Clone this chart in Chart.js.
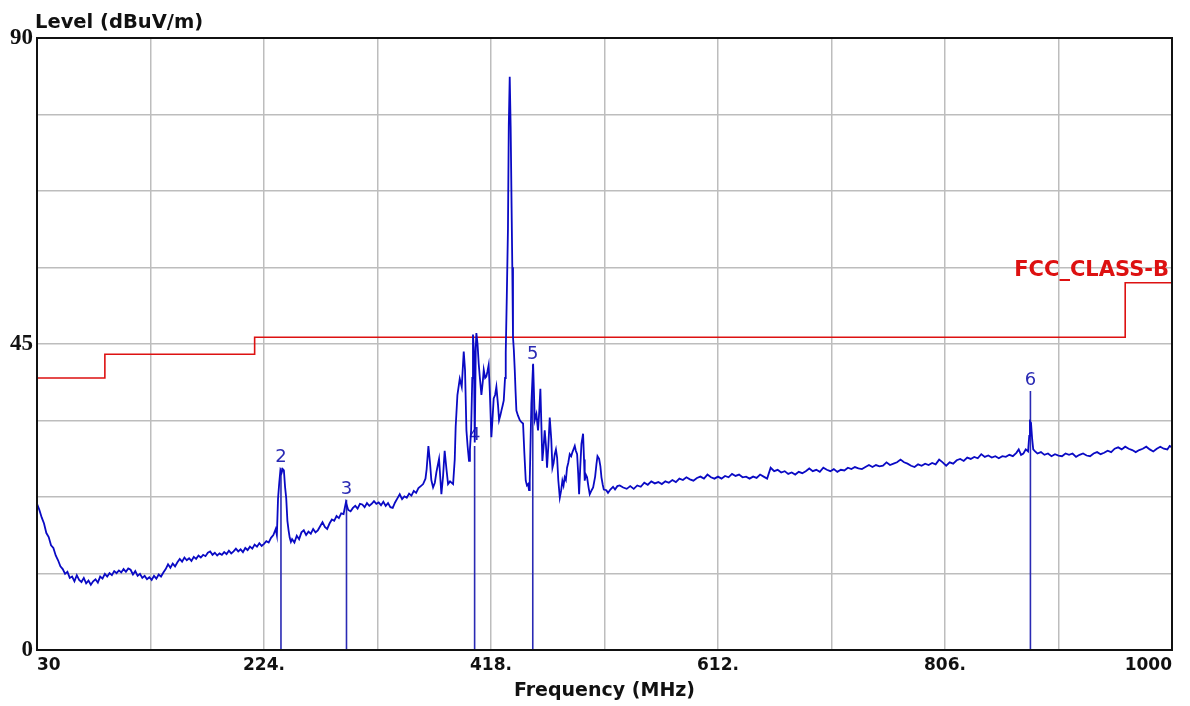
<!DOCTYPE html>
<html>
<head>
<meta charset="utf-8">
<title>Level (dBuV/m)</title>
<script src="https://cdn.jsdelivr.net/npm/chart.js@4/dist/chart.umd.min.js"></script>
<style>
  html, body { margin: 0; padding: 0; background: #fff; }
  canvas { display: block; }
</style>
</head>
<body>
<canvas id="grafico" width="1190" height="706"></canvas>
<script>
// Varredura medida (MHz / dBuV/m)
const freqMHz = [
  30, 32, 34, 36, 38, 40, 42, 44, 46, 48,
  50, 52, 54, 56, 58, 60, 62, 64, 66, 68,
  70, 72, 74, 76, 78, 80, 82, 84, 86, 88,
  90, 92, 94, 96, 98, 100, 102, 104, 106, 108,
  110, 112, 114, 116, 118, 120, 122, 124, 126, 128,
  130, 132, 134, 136, 138, 140, 142, 144, 146, 148,
  150, 152, 154, 156, 158, 160, 162, 164, 166, 168,
  170, 172, 174, 176, 178, 180, 182, 184, 186, 188,
  190, 192, 194, 196, 198, 200, 202, 204, 206, 208,
  210, 212, 214, 216, 218, 220, 222, 224, 226, 228,
  230, 232, 234,
  235, 236, 237, 238, 239, 240, 241, 242, 243, 244,
  245, 246, 247, 248, 250, 252, 254, 256, 258, 260,
  262, 264, 266, 268, 270, 272, 274, 276, 278, 280,
  282, 284, 286, 288, 290, 292, 294, 296, 298, 300,
  302, 304, 306, 308, 310, 312, 314, 316, 318, 320,
  322, 324, 326, 328, 330, 332, 334, 336, 338, 340,
  342, 344, 346, 348, 350, 352, 354, 356, 358, 360,
  362, 363, 364.5, 366, 367, 368.5, 370, 371.3, 373.6, 375.6,
  377, 378.4, 380, 381.3, 383, 385.6, 387, 387.8, 389.3, 391.3,
  393, 394.7, 395.8, 397, 398, 399.2, 400, 401, 402, 402.6,
  403.4, 404.1, 405, 405.5, 406.5, 407.5, 408.5, 409.8, 411, 411.8,
  413, 414, 415, 416, 417, 418.3, 419.3, 420.3, 421.5, 422.6,
  424, 424.9, 426, 426.9, 428, 428.9, 430, 430.6, 431.5, 432.5,
  433.2, 434, 434.8, 435.6, 436.2, 436.8, 437.5, 438.3, 439, 439.7,
  441, 442.6, 444, 445.4, 446.5, 447.7, 448.7, 449.7, 450.5, 451.1,
  452.5, 454, 455.4, 456.8, 458.2, 459.2, 460.2, 461.9, 463, 463.9,
  465, 465.9, 467, 468.2, 469.5, 470.5, 471.5, 472.5, 473.5, 474.5,
  475.5, 476.8, 478, 479, 480, 481, 482, 483, 484, 485.3,
  486.5, 487.6, 488.5, 489.6, 490.5, 491.6, 492.5, 493.3, 494.3, 495.3,
  496.7, 497.5, 498.1, 499, 500.1, 501.3, 502.4, 504, 505.3, 507,
  508.1, 509, 510.4, 511.5, 512.4, 513.5, 514.4, 516.6, 518, 520,
  522.3, 524, 526, 528,
  531, 534, 537, 540, 543, 546, 549, 552, 555, 558,
  561, 564, 567, 570, 573, 576, 579, 582, 585, 588,
  591, 594, 597, 600, 603, 606, 609, 612, 615, 618,
  621, 624, 627, 630, 633, 636, 639, 642, 645, 648,
  651, 654, 657, 660, 663, 666, 669, 672, 675, 678,
  681, 684, 687, 690, 693, 696, 699, 702, 705, 708,
  711, 714, 717, 720, 723, 726, 729, 732, 735, 738,
  741, 744, 747, 750, 753, 756, 759, 762, 765, 768,
  771, 774, 777, 780, 783, 786, 789, 792, 795, 798,
  801, 804, 807, 810, 813, 816, 819, 822, 825, 828,
  831, 834, 837, 840, 843, 846, 849, 852, 855, 858,
  861, 864, 867, 869, 871, 873, 875, 877, 878, 878.6,
  879.5, 880.5, 881.4, 883, 885, 888, 891, 894, 897, 900,
  903, 906, 909, 912, 915, 918, 921, 924, 927, 930,
  933, 936, 939, 942, 945, 948, 951, 954, 957, 960,
  963, 966, 969, 972, 975, 978, 981, 984, 987, 990,
  993, 996, 998, 1000
];
const nivel = [
  21.5, 20.6, 19.5, 18.6, 17.2, 16.6, 15.4, 15.0, 13.9, 13.2,
  12.3, 11.9, 11.2, 11.5, 10.6, 10.8, 10.1, 11.0, 10.3, 10.0,
  10.6, 9.8, 10.2, 9.6, 10.1, 10.4, 9.9, 10.8, 10.5, 11.2,
  10.8, 11.3, 11.0, 11.6, 11.3, 11.7, 11.4, 11.9, 11.5, 12.0,
  11.8, 11.1, 11.6, 10.9, 11.2, 10.6, 10.9, 10.4, 10.7, 10.3,
  10.9, 10.5, 11.1, 10.8, 11.4, 11.9, 12.6, 12.1, 12.7, 12.3,
  12.9, 13.4, 13.0, 13.6, 13.2, 13.5, 13.1, 13.7, 13.4, 13.9,
  13.6, 14.0, 13.8, 14.3, 14.5, 14.0, 14.3, 13.9, 14.2, 14.0,
  14.4, 14.1, 14.6, 14.2, 14.5, 14.9, 14.5, 14.8, 14.4, 15.0,
  14.7, 15.2, 14.9, 15.5, 15.2, 15.7, 15.3, 15.6, 16.0, 15.8,
  16.5, 16.9, 17.8,
  16.9, 22.3, 24.5, 26.4, 26.0, 26.6, 26.4, 24.0, 22.3, 19.0,
  17.6, 16.5, 15.9, 16.3, 15.8, 16.8, 16.3, 17.3, 17.6, 16.9,
  17.4, 17.1, 17.8, 17.3, 17.6, 18.2, 18.8, 18.1, 17.8, 18.6,
  19.2, 19.0, 19.7, 19.4, 20.1, 20.0, 21.7, 20.6, 20.4, 20.9,
  21.2, 20.8, 21.5, 21.4, 21.0, 21.6, 21.2, 21.5, 21.9, 21.5,
  21.7, 21.3, 21.8, 21.2, 21.6, 21.0, 20.9, 21.7, 22.3, 22.9,
  22.2, 22.6, 22.4, 23.0, 22.7, 23.4, 23.1, 23.8, 24.1, 24.4,
  25.2, 26.6, 30.0, 27.3, 25.0, 23.9, 24.6, 26.1, 28.1, 22.9,
  25.5, 29.3, 26.5, 24.4, 24.8, 24.4, 28.0, 32.8, 37.5, 39.9,
  38.7, 43.9, 41.2, 32.3, 30.0, 27.8, 29.5, 32.3, 40.0, 46.4,
  44.0, 30.5, 44.5, 46.6, 45.0, 42.1, 40.0, 37.5, 39.5, 41.2,
  40.0, 40.2, 41.0, 41.9, 38.0, 31.3, 34.0, 37.0, 37.5, 38.7,
  36.0, 33.8, 34.5, 35.2, 36.0, 36.7, 40.0, 43.7, 52.0, 62.0,
  77.2, 84.3, 77.0, 65.0, 56.3, 46.0, 44.2, 41.2, 38.0, 35.2,
  34.5, 33.8, 33.5, 33.3, 29.0, 24.9, 24.2, 24.4, 23.5, 24.9,
  36.2, 42.1, 33.8, 34.7, 32.3, 35.0, 38.4, 27.8, 30.0, 32.3,
  30.0, 26.8, 30.0, 34.2, 31.0, 26.8, 27.5, 28.8, 29.5, 28.3,
  25.0, 22.4, 23.5, 24.9, 24.2, 25.4, 25.0, 26.8, 27.5, 28.8,
  28.5, 29.1, 29.5, 30.0, 29.3, 28.8, 26.0, 22.9, 27.0, 30.3,
  31.8, 28.0, 24.9, 25.8, 25.4, 24.0, 22.9, 23.5, 23.9, 25.5,
  27.3, 28.5, 28.1, 27.0, 25.4, 24.3, 23.6, 23.5, 23.1, 23.6,
  24.0, 23.6, 24.1, 24.2,
  23.9, 23.7, 24.1, 23.7, 24.2, 24.0, 24.6, 24.3, 24.8, 24.5,
  24.7, 24.4, 24.8, 24.6, 25.0, 24.7, 25.2, 25.0, 25.4, 25.1,
  24.9, 25.3, 25.5, 25.2, 25.8, 25.4, 25.2, 25.5, 25.2, 25.6,
  25.4, 25.9, 25.6, 25.8, 25.4, 25.5, 25.2, 25.5, 25.3, 25.8,
  25.5, 25.2, 26.8, 26.3, 26.5, 26.1, 26.3, 25.9, 26.1, 25.8,
  26.2, 26.0, 26.3, 26.7, 26.3, 26.5, 26.2, 26.8, 26.5, 26.3,
  26.6, 26.2, 26.5, 26.4, 26.8, 26.6, 26.9, 26.7, 26.6, 26.9,
  27.2, 26.9, 27.2, 27.0, 27.1, 27.6, 27.2, 27.4, 27.6, 28.0,
  27.6, 27.4, 27.1, 26.9, 27.3, 27.1, 27.4, 27.2, 27.5, 27.3,
  28.0, 27.6, 27.1, 27.6, 27.4, 27.9, 28.1, 27.8, 28.3, 28.1,
  28.4, 28.2, 28.8, 28.4, 28.6, 28.3, 28.5, 28.2, 28.5, 28.4,
  28.7, 28.5, 29.0, 29.5, 28.7, 28.9, 29.5, 29.2, 31.5, 33.6,
  33.4, 31.0, 29.5, 29.2, 28.9, 29.1, 28.7, 28.9, 28.5, 28.8,
  28.6, 28.5, 28.9, 28.7, 28.9, 28.4, 28.7, 28.9, 28.6, 28.5,
  28.9, 29.1, 28.8, 29.0, 29.3, 29.1, 29.6, 29.8, 29.5, 29.9,
  29.6, 29.4, 29.1, 29.4, 29.6, 29.9, 29.5, 29.2, 29.6, 29.9,
  29.6, 29.5, 30.0, 29.8
];

// Limite FCC classe B (degraus)
const limiteFreq = [30, 88, 216, 960, 1000];
const limiteNivel = [40, 43.5, 46, 54, 54];
const limiteNome = 'FCC_CLASS-B';

// Marcadores
const marcadorNum = ['2', '3', '4', '5', '6'];
const marcadorFreq = [238.5, 294.5, 404, 453.7, 879];
const marcadorNivel = [26.8, 22.1, 30.0, 41.9, 38.1];

// Eixos
const freqGrade = [30, 127, 224, 321, 418, 515, 612, 709, 806, 903, 1000];
const freqRotulos = ['30', '', '224.', '', '418.', '', '612.', '', '806.', '', '1000'];
const nivelGrade = [0, 11.25, 22.5, 33.75, 45, 56.25, 67.5, 78.75, 90];
const nivelRotulos = ['0', '', '', '', '45', '', '', '', '90'];

const corTraco = '#0a0ac4';
const corMarcador = '#2a2ab4';
const corLimite = '#dd1111';

const traco = freqMHz.map((f, i) => ({ x: f, y: nivel[i] }));
const limite = limiteFreq.map((f, i) => ({ x: f, y: limiteNivel[i] }));
const marcadores = [];
marcadorFreq.forEach((f, i) => {
  marcadores.push({ x: f, y: 0 }, { x: f, y: marcadorNivel[i] }, { x: f, y: null });
});

const decoracao = {
  id: 'decoracao',
  beforeDatasetsDraw(chart) {
    // numeros dos marcadores ficam por baixo do traco
    const { ctx, scales: { x, y } } = chart;
    ctx.save();
    ctx.font = '18px "DejaVu Sans"';
    ctx.fillStyle = corMarcador;
    ctx.textAlign = 'center';
    ctx.textBaseline = 'alphabetic';
    marcadorNum.forEach((n, i) => {
      ctx.fillText(n, x.getPixelForValue(marcadorFreq[i]), y.getPixelForValue(marcadorNivel[i]) - 6);
    });
    ctx.restore();
  },
  afterDraw(chart) {
    const { ctx, chartArea: a, scales: { y } } = chart;
    ctx.save();
    ctx.strokeStyle = '#111';
    ctx.lineWidth = 2;
    ctx.strokeRect(a.left, a.top, a.right - a.left, a.bottom - a.top);

    ctx.fillStyle = '#111';
    ctx.font = 'bold 19.5px "DejaVu Sans"';
    ctx.textAlign = 'left';
    ctx.textBaseline = 'alphabetic';
    ctx.fillText('Level (dBuV/m)', 35, 28);

    ctx.fillStyle = corLimite;
    ctx.font = 'bold 21px "DejaVu Sans"';
    ctx.textAlign = 'right';
    ctx.fillText(limiteNome, a.right - 3, y.getPixelForValue(limiteNivel[limiteNivel.length - 1]) - 7);
    ctx.restore();
  }
};

const grafico = new Chart(document.getElementById('grafico'), {
  type: 'line',
  data: {
    datasets: [
      {
        data: traco,
        borderColor: corTraco,
        borderWidth: 1.8,
        pointRadius: 0,
        tension: 0,
      },
      {
        data: marcadores,
        borderColor: corMarcador,
        borderWidth: 1.6,
        pointRadius: 0,
        spanGaps: false,
      },
      {
        data: limite,
        borderColor: corLimite,
        borderWidth: 1.6,
        pointRadius: 0,
        stepped: 'before',
      },
    ],
  },
  options: {
    responsive: false,
    animation: false,
    devicePixelRatio: 1,
    layout: { padding: { top: 38, right: 18, left: 0, bottom: 0 } },
    plugins: {
      legend: { display: false },
      tooltip: { enabled: false },
    },
    scales: {
      x: {
        type: 'linear',
        min: 30,
        max: 1000,
        afterBuildTicks: (s) => { s.ticks = freqGrade.map((v) => ({ value: v })); },
        afterFit: (s) => { s.height = 56; },
        grid: { color: '#bdbdbd', lineWidth: 1.5, drawTicks: false },
        border: { display: false },
        ticks: {
          autoSkip: false,
          maxRotation: 0,
          align: 'inner',
          padding: 5,
          color: '#111',
          font: { family: 'DejaVu Sans', weight: 'bold', size: 17 },
          callback: (v, i) => freqRotulos[i],
        },
        title: {
          display: true,
          text: 'Frequency (MHz)',
          color: '#111',
          font: { family: 'DejaVu Sans', weight: 'bold', size: 19 },
          padding: { top: 0, bottom: 4 },
        },
      },
      y: {
        min: 0,
        max: 90,
        afterBuildTicks: (s) => { s.ticks = nivelGrade.map((v) => ({ value: v })); },
        afterFit: (s) => { s.width = 37; },
        grid: { color: '#bdbdbd', lineWidth: 1.5, drawTicks: false },
        border: { display: false },
        ticks: {
          padding: 4,
          color: '#111',
          font: { family: 'Liberation Serif', weight: 'bold', size: 23 },
          callback: (v, i) => nivelRotulos[i],
        },
      },
    },
  },
  plugins: [decoracao],
});
</script>
</body>
</html>
